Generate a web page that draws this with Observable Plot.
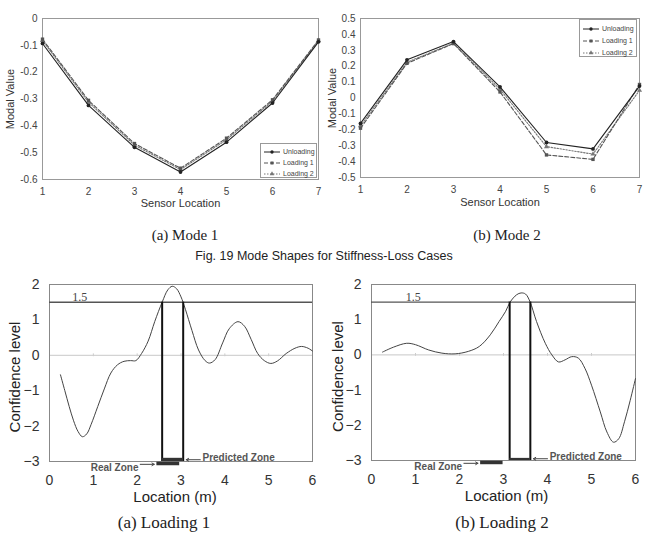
<!DOCTYPE html>
<html><head><meta charset="utf-8">
<script src="https://cdn.jsdelivr.net/npm/d3@7"></script>
<script src="https://cdn.jsdelivr.net/npm/@observablehq/plot@0.6"></script>
<style>
body{margin:0;background:#fff;}
#root{position:relative;width:646px;height:536px;overflow:hidden;font-family:"Liberation Sans",Arial,sans-serif;background:#fff;}
.panel{position:absolute;}
.cap{position:absolute;color:#222;white-space:nowrap;transform:translate(-50%,-50%);line-height:1;}
.serif{font-family:"Liberation Serif","DejaVu Serif",serif;}
.legend{position:absolute;border:1px solid #999;background:#fff;box-sizing:border-box;font-family:"Liberation Sans",Arial,sans-serif;color:#444;}
.legrow{position:absolute;left:2px;display:flex;align-items:center;line-height:1;white-space:nowrap;}
</style></head><body><div id="root"></div><script>
// ---------- data ----------
const sensorLocations = [1, 2, 3, 4, 5, 6, 7];
const seriesNames = ["Unloading", "Loading 1", "Loading 2"];

const mode1Unloading = [-0.093, -0.324, -0.480, -0.572, -0.461, -0.315, -0.087];
const mode1Loading1  = [-0.077, -0.305, -0.466, -0.558, -0.446, -0.303, -0.080];
const mode1Loading2  = [-0.082, -0.312, -0.472, -0.563, -0.452, -0.308, -0.083];

const mode2Unloading = [-0.160, 0.240, 0.355, 0.070, -0.280, -0.320, 0.075];
const mode2Loading1  = [-0.190, 0.218, 0.342, 0.038, -0.358, -0.386, 0.085];
const mode2Loading2  = [-0.175, 0.225, 0.345, 0.055, -0.306, -0.353, 0.048];

const mode1YTicks = [0, -0.1, -0.2, -0.3, -0.4, -0.5, -0.6];
const mode2YTicks = [0.5, 0.4, 0.3, 0.2, 0.1, 0, -0.1, -0.2, -0.3, -0.4, -0.5];

const loading1Location = [0.25,0.35,0.45,0.55,0.65,0.75,0.85,0.95,1.1,1.25,1.4,1.55,1.7,1.85,1.97,2.1,2.25,2.4,2.57,2.7,2.8,2.9,3.0,3.1,3.25,3.4,3.55,3.65,3.78,3.95,4.1,4.3,4.45,4.6,4.75,4.9,5.05,5.2,5.4,5.6,5.75,5.9,6.0];
const loading1Confidence = [-0.55,-1.0,-1.45,-1.85,-2.15,-2.3,-2.22,-1.95,-1.45,-0.95,-0.5,-0.27,-0.17,-0.15,-0.15,0.05,0.4,0.95,1.5,1.85,1.95,1.88,1.65,1.3,0.7,0.15,-0.15,-0.22,-0.12,0.35,0.75,0.95,0.82,0.45,0.05,-0.15,-0.23,-0.16,0.05,0.2,0.25,0.2,0.12];

const loading2Location = [0.25,0.5,0.8,1.0,1.3,1.6,1.9,2.2,2.45,2.7,2.9,3.05,3.15,3.3,3.4,3.5,3.6,3.75,3.95,4.1,4.25,4.4,4.55,4.7,4.85,5.0,5.2,5.35,5.5,5.62,5.75,5.88,6.0];
const loading2Confidence = [0.08,0.22,0.33,0.29,0.14,0.05,0.03,0.1,0.24,0.57,0.95,1.24,1.5,1.71,1.76,1.73,1.52,0.95,0.33,0.0,-0.2,-0.14,-0.05,-0.09,-0.38,-0.86,-1.62,-2.19,-2.48,-2.38,-1.9,-1.29,-0.67];

const locationTicks = [0, 1, 2, 3, 4, 5, 6];
const confidenceTicks = [-3, -2, -1, 0, 1, 2];
const threshold = 1.5;
const predictedZone1 = [2.57, 3.05];
const realZone1 = [2.45, 2.97];
const predictedZone2 = [3.14, 3.61];
const realZone2 = [2.48, 2.99];

// ---------- styles ----------
const seriesStyle = {
  "Unloading": {stroke: "#222", dash: null, symbol: "circle", sym: d3.symbolCircle},
  "Loading 1": {stroke: "#555", dash: "4,2", symbol: "square", sym: d3.symbolSquare},
  "Loading 2": {stroke: "#777", dash: "1.5,1.5", symbol: "triangle", sym: d3.symbolTriangle}
};
const sans = "'Liberation Sans', Arial, sans-serif";
const root = document.getElementById("root");

function place(node, left, top) {
  const d = document.createElement("div");
  d.className = "panel"; d.style.left = left + "px"; d.style.top = top + "px";
  d.appendChild(node); root.appendChild(d);
}
function caption(text, x, y, size, cls) {
  const d = document.createElement("div");
  d.className = "cap " + (cls || "");
  d.style.left = x + "px"; d.style.top = y + "px"; d.style.fontSize = size + "px";
  d.textContent = text; root.appendChild(d);
}

function modeTable(u, l1, l2) {
  const rows = [];
  [u, l1, l2].forEach((vals, i) => vals.forEach((v, j) => rows.push({series: seriesNames[i], loc: sensorLocations[j], value: v})));
  return rows;
}

function modeChart(data, yDomain, yTicks, o) {
  const marks = [Plot.frame({stroke: "#999"})];
  seriesNames.slice().reverse().forEach(s => {
    const st = seriesStyle[s];
    const sub = data.filter(d => d.series === s);
    marks.push(Plot.line(sub, {x: "loc", y: "value", stroke: st.stroke, strokeWidth: 1.1, strokeDasharray: st.dash}));
    marks.push(Plot.dot(sub, {x: "loc", y: "value", symbol: st.symbol, fill: st.stroke, r: 1.9}));
  });
  marks.push(Plot.text(["Modal Value"], {text: d => d, frameAnchor: "left", textAnchor: "middle", lineAnchor: "middle", rotate: -90, dx: o.labelDx, fontSize: 11, fill: "#333"}));
  marks.push(Plot.text(["Sensor Location"], {text: d => d, frameAnchor: "bottom", textAnchor: "middle", lineAnchor: "middle", dy: o.labelDy, fontSize: 11, fill: "#333"}));
  return Plot.plot({
    width: o.width, height: o.height,
    marginLeft: o.mL, marginRight: o.mR, marginTop: o.mT, marginBottom: o.mB,
    style: {fontFamily: sans, fontSize: "10px", color: "#444", background: "transparent"},
    x: {domain: [1, 7], ticks: sensorLocations, tickFormat: d => String(d), tickSize: 0, tickPadding: 8, label: null},
    y: {domain: yDomain, ticks: yTicks, tickFormat: d => d === 0 ? "0" : d.toFixed(1), tickSize: 0, tickPadding: 5, label: null},
    marks
  });
}

function legend(left, top, w, h, rowTops, fontSize) {
  const box = document.createElement("div");
  box.className = "legend";
  Object.assign(box.style, {left: left + "px", top: top + "px", width: w + "px", height: h + "px"});
  seriesNames.forEach((s, i) => {
    const st = seriesStyle[s];
    const row = document.createElement("div");
    row.className = "legrow"; row.style.top = rowTops[i] + "px"; row.style.fontSize = fontSize + "px";
    const svg = d3.create("svg").attr("width", 18).attr("height", 6).style("margin-right", "2px");
    svg.append("line").attr("x1", 1).attr("x2", 17).attr("y1", 3).attr("y2", 3)
      .attr("stroke", st.stroke).attr("stroke-width", 1).attr("stroke-dasharray", st.dash);
    svg.append("path").attr("transform", "translate(9,3)").attr("d", d3.symbol(st.sym, 9)()).attr("fill", st.stroke);
    row.appendChild(svg.node());
    const t = document.createElement("span"); t.textContent = s; row.appendChild(t);
    box.appendChild(row);
  });
  root.appendChild(box);
}

const fmtSigned = d => d < 0 ? "\u2212" + String(-d) : String(d);

function confidenceChart(locs, vals, pred, real, o) {
  const data = locs.map((x, i) => ({x, y: vals[i]}));
  const yMin = confidenceTicks[0];
  const marks = [
    Plot.ruleY([0], {stroke: "#c8c8c8"}),
    Plot.ruleX(locationTicks.slice(1, -1).map(x => ({x, y1: -0.04, y2: 0.04})), {x: "x", y1: "y1", y2: "y2", stroke: "#ccc"}),
    Plot.frame({stroke: "#888"}),
    Plot.ruleY([threshold], {stroke: "#555", strokeWidth: 1.4}),
    Plot.text([{x: o.thrX, y: threshold, label: String(threshold)}], {x: "x", y: "y", text: "label", lineAnchor: "bottom", dy: -1, fontFamily: "'Liberation Serif', serif", fontSize: 12, fill: "#444"}),
    Plot.line(data, {x: "x", y: "y", curve: "catmull-rom", stroke: "#444", strokeWidth: 1}),
    Plot.ruleX(pred.map(x => ({x, y1: yMin, y2: threshold})), {x: "x", y1: "y1", y2: "y2", stroke: "#111", strokeWidth: 2}),
    Plot.rect([{x1: pred[0], x2: pred[1], y1: yMin, y2: yMin + o.predH}], {x1: "x1", x2: "x2", y1: "y1", y2: "y2", fill: "#333"}),
    Plot.rect([{x1: real[0], x2: real[1], y1: yMin - 0.02, y2: yMin - 0.12}], {x1: "x1", x2: "x2", y1: "y1", y2: "y2", fill: "#333"}),
    Plot.arrow([{x1: real[0] - 0.38, x2: real[0] - 0.06, y: yMin - 0.08}], {x1: "x1", x2: "x2", y1: "y", y2: "y", stroke: "#444", strokeWidth: 1, headLength: 4}),
    Plot.arrow([{x1: pred[1] + 0.39, x2: pred[1] + 0.07, y: yMin + 0.05}], {x1: "x1", x2: "x2", y1: "y", y2: "y", stroke: "#444", strokeWidth: 1, headLength: 4}),
    Plot.text([{x: real[0] - 0.42, y: yMin - 0.18, label: "Real Zone"}], {x: "x", y: "y", text: "label", textAnchor: "end", fontSize: 10, fontWeight: "bold", fill: "#555"}),
    Plot.text([{x: pred[1] + 0.44, y: yMin + 0.11, label: "Predicted Zone"}], {x: "x", y: "y", text: "label", textAnchor: "start", fontSize: 10, fontWeight: "bold", fill: "#555"}),
    Plot.text(["Confidence level"], {text: d => d, frameAnchor: "left", textAnchor: "middle", lineAnchor: "middle", rotate: -90, dx: o.labelDx, dy: 4, fontSize: 15, fill: "#222"}),
    Plot.text(["Location (m)"], {text: d => d, frameAnchor: "bottom", textAnchor: "middle", lineAnchor: "middle", dy: 36, dx: o.locDx, fontSize: 15, fill: "#222"})
  ];
  return Plot.plot({
    width: o.width, height: o.height,
    marginLeft: o.mL, marginRight: o.mR, marginTop: o.mT, marginBottom: o.mB,
    style: {fontFamily: sans, fontSize: "14px", color: "#333", background: "transparent"},
    x: {domain: [0, 6], ticks: locationTicks, tickFormat: fmtSigned, tickSize: 0, tickPadding: 14, label: null},
    y: {domain: [yMin, 2], ticks: confidenceTicks, tickFormat: fmtSigned, tickSize: 0, tickPadding: 10, label: null},
    marks
  });
}

// ---------- top row ----------
place(modeChart(modeTable(mode1Unloading, mode1Loading1, mode1Loading2), [-0.6, 0], mode1YTicks,
  {width: 330, height: 215, mL: 42, mR: 12, mT: 18, mB: 36, labelDx: -32, labelDy: 24}), 0, 0);
place(modeChart(modeTable(mode2Unloading, mode2Loading1, mode2Loading2), [-0.5, 0.5], mode2YTicks,
  {width: 326, height: 215, mL: 40, mR: 7, mT: 18, mB: 38, labelDx: -28, labelDy: 25}), 320, 0);
legend(260, 143, 57, 35, [4, 15, 26], 7);
legend(579, 19, 58, 38, [5, 17, 29], 7);

caption("(a)  Mode 1", 185, 235, 15, "serif");
caption("(b)  Mode 2", 507, 235, 15, "serif");
caption("Fig. 19 Mode Shapes for Stiffness-Loss Cases", 324, 256, 12.5, "");

// ---------- bottom row ----------
place(confidenceChart(loading1Location, loading1Confidence, predictedZone1, realZone1,
  {width: 325, height: 240, mL: 49, mR: 13, mT: 9, mB: 54, labelDx: -34, locDx: -6, thrX: 0.69, predH: 0.09}), 0, 275);
place(confidenceChart(loading2Location, loading2Confidence, predictedZone2, realZone2,
  {width: 323, height: 240, mL: 48, mR: 11, mT: 9, mB: 55, labelDx: -33, locDx: 3, thrX: 0.95, predH: 0.06}), 323, 275);

caption("(a)  Loading 1", 164, 522, 17, "serif");
caption("(b)  Loading 2", 502, 522, 17, "serif");
</script></body></html>
